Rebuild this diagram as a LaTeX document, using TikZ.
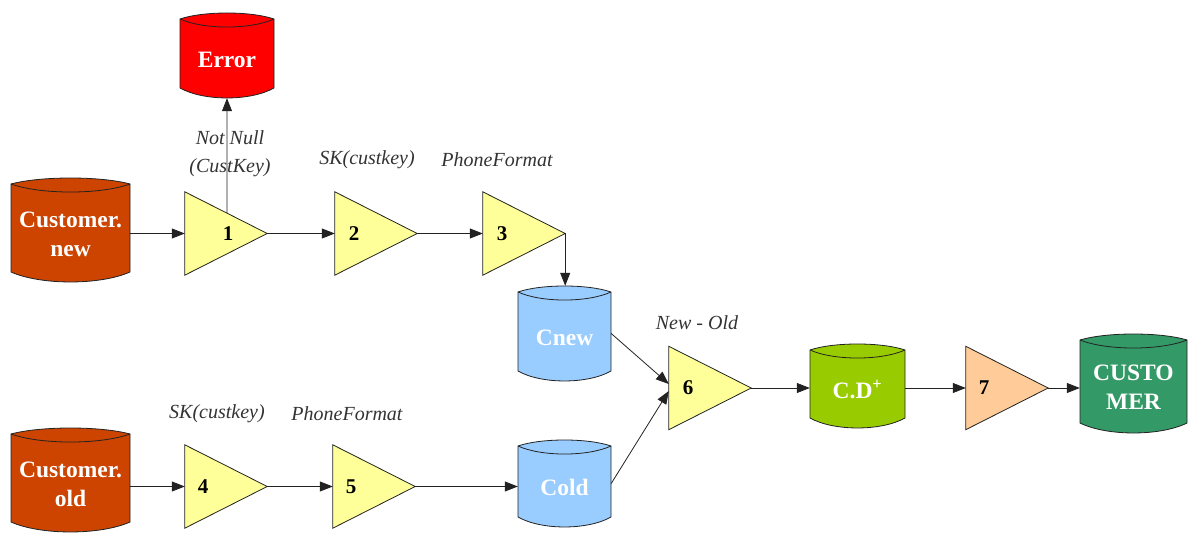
\documentclass[tikz,border=0pt]{standalone}
\usepackage{fontspec}
\setmainfont{Liberation Serif}
\usetikzlibrary{arrows.meta,calc}
\definecolor{srcorange}{HTML}{CC4400}
\definecolor{errred}{HTML}{FF0000}
\definecolor{tmpblue}{HTML}{99CCFF}
\definecolor{cdgreen}{HTML}{99CC00}
\definecolor{custgreen}{HTML}{339966}
\definecolor{triyellow}{HTML}{FFFF99}
\definecolor{triorange}{HTML}{FFCC99}
\definecolor{linegray}{HTML}{222222}
\definecolor{labgray}{HTML}{333333}
\tikzset{
  flow/.style={draw=linegray, line width=0.8pt, -{Triangle[length=13pt,width=10pt]}},
  shapeline/.style={draw=linegray, line width=0.8pt},
  cylbox/.style={inner sep=0pt, draw=none},
  cyltext/.style={text=white, font=\fontsize{23.5}{29}\selectfont\bfseries, align=center, inner sep=0pt},
  tribox/.style={minimum width=82pt, minimum height=83pt, inner sep=0pt, draw=none},
  trinum/.style={font=\fontsize{21}{22}\selectfont\bfseries, inner sep=0pt},
  oplabel/.style={font=\fontsize{20}{28}\selectfont\itshape, text=labgray, align=center, inner sep=0pt},
}
% name, L, T, R, B, colour, text
\newcommand\dbcyl[7]{%
  \pgfmathsetmacro\dbX{(#2+#4)/2}%
  \pgfmathsetmacro\dbY{(#3+#5)/2}%
  \pgfmathsetmacro\dbW{#4-#2}%
  \pgfmathsetmacro\dbH{#5-#3}%
  \node[cylbox, minimum width=\dbW pt, minimum height=\dbH pt] (#1) at (\dbX,\dbY) {};
  \filldraw[shapeline, fill=#6]
    (#2,#3+6) .. controls (#2+\dbW/4,#3-2) and (#4-\dbW/4,#3-2) .. (#4,#3+6)
    -- (#4,#5-10) .. controls (#4-\dbW/4,#5+3.3) and (#2+\dbW/4,#5+3.3) .. (#2,#5-10) -- cycle;
  \draw[shapeline] (#2,#3+6) .. controls (#2+\dbW/4,#3+16.7) and (#4-\dbW/4,#3+16.7) .. (#4,#3+6);
  \node[cyltext] (#1-t) at (\dbX,\dbY+4) {#7};
}
% name, L, cy, fill, label, label x
\newcommand\stage[6]{%
  \node[tribox] (#1) at (#2+41,#3) {};
  \filldraw[shapeline, fill=#4] (#1.north west) -- (#1.east) -- (#1.south west) -- cycle;
  \node[trinum] (#1-n) at (#6,#3) {#5};
}
\begin{document}
\begin{tikzpicture}[x=1pt,y=-1pt]
\useasboundingbox (0,0) rectangle (1188,534);

% stores
\dbcyl{err}{180}{13}{274}{98}{errred}{Error}
\dbcyl{cnewsrc}{11}{178}{130}{282}{srcorange}{Customer.\\new}
\dbcyl{coldsrc}{11}{428}{130}{532}{srcorange}{Customer.\\old}
\dbcyl{cnew}{518}{286}{611}{381}{tmpblue}{Cnew}
\dbcyl{cold}{518}{440}{611}{527}{tmpblue}{Cold}
\dbcyl{cd}{810}{344}{905}{428}{cdgreen}{C.D\textsuperscript{+}}
\dbcyl{cust}{1080}{334}{1187}{433}{custgreen}{CUSTO\\MER}

% transformations
\stage{t1}{185}{233.5}{triyellow}{1}{228}
\stage{t2}{335}{233.5}{triyellow}{2}{354}
\stage{t3}{483}{233.5}{triyellow}{3}{502}
\stage{t4}{185}{486.5}{triyellow}{4}{203}
\stage{t5}{333}{486.5}{triyellow}{5}{351}
\stage{t6}{669}{388}{triyellow}{6}{688}
\stage{t7}{966}{388}{triorange}{7}{984}

% labels
\node[oplabel] (l1) at (230,154) {Not Null\\(CustKey)};
\node[oplabel] (l2) at (367,160) {SK(custkey)};
\node[oplabel] (l3) at (497,160) {PhoneFormat};
\node[oplabel] (l4) at (217,414) {SK(custkey)};
\node[oplabel] (l5) at (347,414) {PhoneFormat};
\node[oplabel] (l6) at (697,323) {New - Old};

% flows
\draw[flow] (cnewsrc.east |- t1.west) -- (t1.west);
\draw[flow] ($(t1.north west)!0.512!(t1.east)$) -- (err.south);
\draw[flow] (t1.east) -- (t2.west);
\draw[flow] (t2.east) -- (t3.west);
\draw[flow] (t3.east) -- (t3.east |- cnew.north);
\draw[flow] (coldsrc.east |- t4.west) -- (t4.west);
\draw[flow] (t4.east) -- (t5.west);
\draw[flow] (t5.east) -- (t5.east -| cold.west);
\draw[flow] (cnew.east) -- ($(t6.west)+(0,-4)$);
\draw[flow] (cold.east) -- ($(t6.west)+(0,3)$);
\draw[flow] (t6.east) -- (t6.east -| cd.west);
\draw[flow] (cd.east |- t7.west) -- (t7.west);
\draw[flow] (t7.east) -- (t7.east -| cust.west);
\end{tikzpicture}
\end{document}
